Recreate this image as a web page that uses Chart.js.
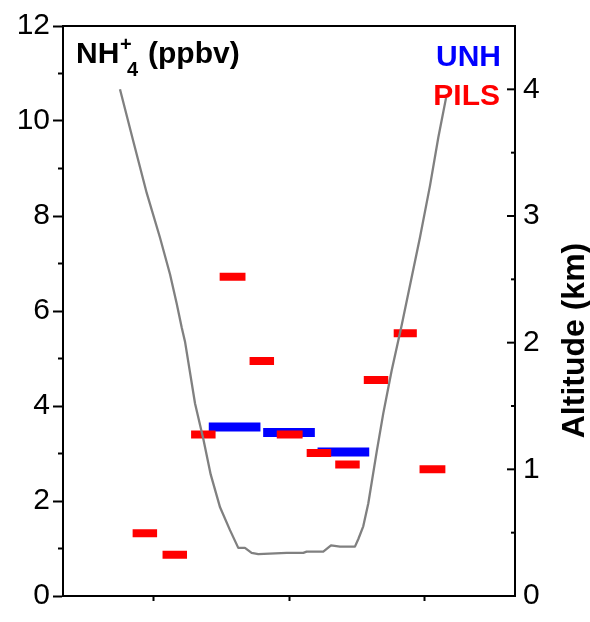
<!DOCTYPE html>
<html>
<head>
<meta charset="utf-8">
<script src="https://cdn.jsdelivr.net/npm/chart.js@4.4.1/dist/chart.umd.min.js"></script>
<style>
  html, body { margin: 0; padding: 0; background: #fff; }
  canvas { display: block; }
</style>
</head>
<body>
<canvas id="c" width="590" height="622"></canvas>
<script>
// Sampling intervals (decimal hours UTC) and NH4+ mixing ratios (ppbv)
const pilsStart = [16.85, 17.07, 17.28, 17.49, 17.71, 17.91, 18.13, 18.34, 18.55, 18.77, 18.96];
const pilsEnd   = [17.03, 17.25, 17.46, 17.68, 17.89, 18.10, 18.31, 18.52, 18.73, 18.94, 19.15];
const pilsNH4   = [1.32, 0.87, 3.40, 6.72, 4.95, 3.40, 3.01, 2.77, 4.55, 5.53, 2.67];

const unhStart = [17.41, 17.81, 18.21];
const unhEnd   = [17.79, 18.19, 18.59];
const unhNH4   = [3.56, 3.44, 3.03];

// Aircraft altitude profile (km) over the same period
const altTime = [16.757, 16.855, 16.954, 17.051, 17.125, 17.174, 17.211, 17.235, 17.309, 17.370,
                 17.424, 17.493, 17.566, 17.627, 17.676, 17.725, 17.774, 17.983, 18.105, 18.130,
                 18.252, 18.309, 18.375, 18.485, 18.510, 18.546, 18.583, 18.645, 18.693, 18.755,
                 18.829, 18.963, 19.037, 19.098, 19.160];
const altKm   = [4.00, 3.59, 3.18, 2.83, 2.54, 2.31, 2.12, 2.01, 1.52, 1.24,
                 0.96, 0.70, 0.52, 0.38, 0.38, 0.34, 0.33, 0.34, 0.34, 0.35,
                 0.35, 0.40, 0.39, 0.39, 0.45, 0.55, 0.73, 1.14, 1.44, 1.78,
                 2.14, 2.83, 3.24, 3.62, 3.96];

const timeTicks = [17, 18, 19];
const nh4Range = [0, 12];
const altRange = [0, 4.5];

const FONT = '"Liberation Sans", Arial, Helvetica, sans-serif';

// Each sample becomes a flat segment; a null point breaks the line between samples
function segments(starts, ends, values) {
  const pts = [];
  starts.forEach((s, i) => {
    pts.push({ x: s, y: values[i] }, { x: ends[i], y: values[i] }, { x: ends[i], y: null });
  });
  return pts;
}

function stroke(ctx, x1, y1, x2, y2) {
  ctx.beginPath();
  ctx.moveTo(x1, y1);
  ctx.lineTo(x2, y2);
  ctx.stroke();
}

// Frame top, minor ticks, inward right-axis ticks and the text annotations
const decor = {
  id: 'decor',
  afterDraw(chart) {
    const { ctx, chartArea: a, scales } = chart;
    ctx.save();
    ctx.strokeStyle = '#000';
    ctx.lineWidth = 2;
    stroke(ctx, a.left - 1, a.top, a.right + 1, a.top);

    for (let v = 1; v < nh4Range[1]; v += 2) {
      const p = scales.y.getPixelForValue(v);
      stroke(ctx, a.left - 5, p, a.left, p);
    }
    for (let k = 1; k < 9; k++) {
      const v = k * 0.5;
      const p = scales.y1.getPixelForValue(v);
      const len = k % 2 === 0 ? 8 : 4;
      stroke(ctx, a.right - len, p, a.right, p);
    }

    ctx.fillStyle = '#000';
    ctx.textBaseline = 'alphabetic';
    ctx.textAlign = 'left';
    ctx.font = 'bold 30px ' + FONT;
    ctx.fillText('NH', 76, 63);
    ctx.font = 'bold 20px ' + FONT;
    ctx.fillText('+', 120, 51);
    ctx.fillText('4', 127, 76);
    ctx.font = 'bold 30px ' + FONT;
    ctx.fillText('(ppbv)', 148, 63);

    ctx.textAlign = 'right';
    ctx.fillStyle = '#0000ff';
    ctx.fillText('UNH', 501, 66);
    ctx.fillStyle = '#ff0000';
    ctx.fillText('PILS', 500, 105);

    ctx.fillStyle = '#000';
    ctx.translate(584, 340.5);
    ctx.rotate(-Math.PI / 2);
    ctx.textAlign = 'center';
    ctx.font = 'bold 32px ' + FONT;
    ctx.fillText('Altitude (km)', 0, 0);
    ctx.restore();
  }
};

new Chart(document.getElementById('c'), {
  type: 'line',
  data: {
    datasets: [
      {
        label: 'Altitude',
        data: altTime.map((t, i) => ({ x: t, y: altKm[i] })),
        yAxisID: 'y1',
        borderColor: '#808080',
        borderWidth: 2.3,
        borderJoinStyle: 'round',
        pointRadius: 0,
        tension: 0,
        order: 0
      },
      {
        label: 'PILS',
        data: segments(pilsStart, pilsEnd, pilsNH4),
        yAxisID: 'y',
        borderColor: '#ff0000',
        borderWidth: 8,
        borderCapStyle: 'butt',
        pointRadius: 0,
        spanGaps: false,
        order: 1
      },
      {
        label: 'UNH',
        data: segments(unhStart, unhEnd, unhNH4),
        yAxisID: 'y',
        borderColor: '#0000ff',
        borderWidth: 9,
        borderCapStyle: 'butt',
        pointRadius: 0,
        spanGaps: false,
        order: 2
      }
    ]
  },
  options: {
    responsive: false,
    animation: false,
    events: [],
    layout: { padding: { top: 24, left: 0, right: 0, bottom: 0 } },
    plugins: { legend: { display: false }, tooltip: { enabled: false } },
    scales: {
      x: {
        type: 'linear',
        position: 'bottom',
        min: 16.338,
        max: 19.662,
        afterBuildTicks: s => { s.ticks = timeTicks.map(v => ({ value: v })); },
        afterFit: s => { s.height = 10.5; },
        ticks: { display: false },
        grid: { drawOnChartArea: false, tickLength: 5, tickWidth: 2, tickColor: '#000' },
        border: { color: '#000', width: 2 }
      },
      y: {
        type: 'linear',
        position: 'left',
        min: nh4Range[0],
        max: nh4Range[1],
        afterFit: s => { s.width = 63; },
        ticks: {
          stepSize: 1,
          padding: 3,
          color: '#000',
          font: { family: FONT, size: 30 },
          callback: v => (v % 2 === 0 ? String(v) : '')
        },
        grid: {
          drawOnChartArea: false,
          tickLength: 10,
          tickWidth: 2,
          tickColor: c => (c.tick && c.tick.value % 2 === 0 ? '#000' : 'rgba(0,0,0,0)')
        },
        border: { color: '#000', width: 2 }
      },
      y1: {
        type: 'linear',
        position: 'right',
        min: altRange[0],
        max: altRange[1],
        afterFit: s => { s.width = 75; },
        ticks: {
          stepSize: 0.5,
          padding: 8,
          color: '#000',
          font: { family: FONT, size: 30 },
          callback: v => (Number.isInteger(v) ? String(v) : '')
        },
        grid: { display: false, drawTicks: false },
        border: { color: '#000', width: 2 }
      }
    }
  },
  plugins: [decor]
});
</script>
</body>
</html>
